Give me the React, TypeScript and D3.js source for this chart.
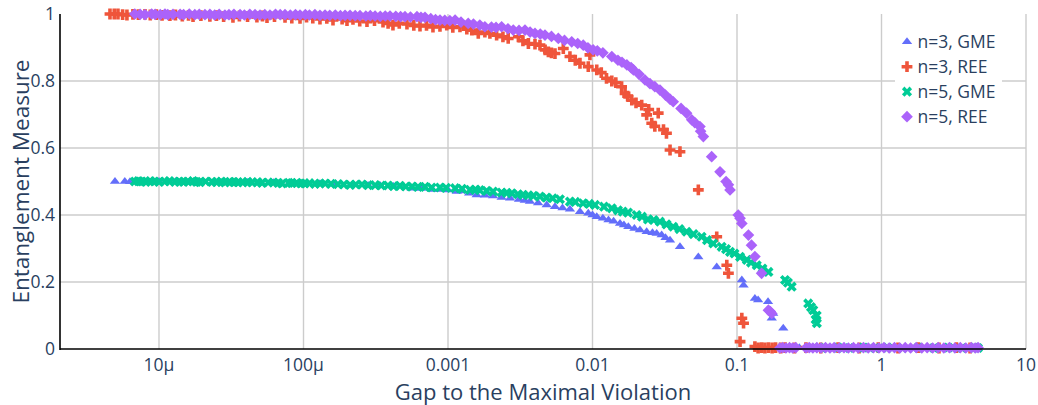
import React from "react";
import * as d3 from "d3";

type Pt = [number, number];

// [gap to maximal violation, entanglement measure]
const gme3: Pt[] = [
  [4.96e-6, 0.5], [5.8e-6, 0.5], [6.3e-6, 0.499], [7.5e-6, 0.5], [1.0e-5, 0.5], [1.3e-5, 0.499],
  [1.72e-5, 0.498], [2.4e-5, 0.498], [3.2e-5, 0.497], [4.1e-5, 0.497], [5.0e-5, 0.496],
  [6.2e-5, 0.496], [8.0e-5, 0.495], [1.0e-4, 0.494], [1.3e-4, 0.493], [1.68e-4, 0.492],
  [2.2e-4, 0.49], [2.8e-4, 0.488], [3.4e-4, 0.487], [4.2e-4, 0.485], [5.6e-4, 0.48],
  [6.5e-4, 0.479], [7.8e-4, 0.476], [8.8e-4, 0.476], [1.0e-3, 0.475], [1.15e-3, 0.47],
  [1.27e-3, 0.472], [1.4e-3, 0.465], [1.58e-3, 0.46], [1.8e-3, 0.459], [2.05e-3, 0.457],
  [2.35e-3, 0.452], [2.69e-3, 0.45], [3.1e-3, 0.446], [3.4e-3, 0.443], [3.69e-3, 0.44],
  [4.2e-3, 0.436], [4.82e-3, 0.43], [5.5e-3, 0.425], [6.2e-3, 0.421], [6.98e-3, 0.417],
  [8.19e-3, 0.41], [9.35e-3, 0.405], [1.0e-2, 0.4], [1.07e-2, 0.395], [1.18e-2, 0.39],
  [1.29e-2, 0.385], [1.4e-2, 0.381], [1.55e-2, 0.375], [1.65e-2, 0.37], [1.77e-2, 0.365],
  [1.95e-2, 0.36], [2.13e-2, 0.355], [2.37e-2, 0.35], [2.6e-2, 0.347], [2.78e-2, 0.345],
  [3.01e-2, 0.34], [3.2e-2, 0.332], [3.44e-2, 0.325], [4.03e-2, 0.305], [5.4e-2, 0.275],
  [7.24e-2, 0.245], [0.108, 0.206], [0.111, 0.19], [0.133, 0.151], [0.14, 0.146],
  [0.164, 0.141], [0.174, 0.092], [0.178, 0.106], [0.209, 0.062],
  [0.22, 0.004], [0.245, 0.003], [0.27, 0.004], [0.32, 0.003], [0.4, 0.004], [0.5, 0.003],
  [0.62, 0.004], [0.8, 0.003], [1.0, 0.004], [1.3, 0.003], [1.7, 0.004], [2.2, 0.003],
  [2.9, 0.004], [3.6, 0.003], [4.3, 0.004],
];

const ree3: Pt[] = [
  [4.58e-6, 1.0], [4.9e-6, 1.0], [5.2e-6, 1.0], [5.6e-6, 0.998], [6.0e-6, 0.997], [6.6e-6, 0.999],
  [7.2e-6, 0.998], [8.0e-6, 0.999], [8.7e-6, 0.997], [9.6e-6, 0.998], [1.05e-5, 0.996],
  [1.19e-5, 0.995], [1.3e-5, 0.997], [1.45e-5, 0.994], [1.6e-5, 0.996], [1.72e-5, 0.992],
  [1.95e-5, 0.995], [2.25e-5, 0.993], [2.5e-5, 0.995], [2.8e-5, 0.992], [3.25e-5, 0.99],
  [3.6e-5, 0.994], [4.1e-5, 0.992], [4.76e-5, 0.991], [5.2e-5, 0.994], [5.59e-5, 0.989],
  [6.3e-5, 0.992], [7.45e-5, 0.99], [8.3e-5, 0.988], [9.46e-5, 0.987], [1.05e-4, 0.991],
  [1.16e-4, 0.988], [1.3e-4, 0.985], [1.45e-4, 0.987], [1.6e-4, 0.982], [1.85e-4, 0.985],
  [2.0e-4, 0.98], [2.2e-4, 0.984], [2.45e-4, 0.979], [2.75e-4, 0.977], [3.1e-4, 0.98],
  [3.55e-4, 0.976], [3.85e-4, 0.972], [4.16e-4, 0.967], [4.6e-4, 0.972], [5.2e-4, 0.97],
  [5.8e-4, 0.966], [6.4e-4, 0.964], [7.1e-4, 0.966], [7.87e-4, 0.961], [8.8e-4, 0.963],
  [9.8e-4, 0.967], [1.08e-3, 0.96], [1.21e-3, 0.962], [1.35e-3, 0.955], [1.46e-3, 0.952],
  [1.62e-3, 0.942], [1.8e-3, 0.946], [1.95e-3, 0.942], [2.17e-3, 0.937], [2.4e-3, 0.932],
  [2.61e-3, 0.927], [3.07e-3, 0.932], [3.3e-3, 0.92], [3.6e-3, 0.912], [4.0e-3, 0.91],
  [4.33e-3, 0.907], [4.7e-3, 0.893], [4.95e-3, 0.887], [5.2e-3, 0.884], [5.5e-3, 0.882],
  [6.28e-3, 0.897], [6.98e-3, 0.873], [7.6e-3, 0.862], [8.19e-3, 0.853], [9.35e-3, 0.843],
  [9.6e-3, 0.878], [1.07e-2, 0.833], [1.15e-2, 0.825], [1.25e-2, 0.808], [1.36e-2, 0.8],
  [1.45e-2, 0.795], [1.59e-2, 0.783], [1.68e-2, 0.763], [1.75e-2, 0.755], [1.87e-2, 0.743],
  [2.0e-2, 0.735], [2.19e-2, 0.728], [2.37e-2, 0.699], [2.45e-2, 0.715], [2.85e-2, 0.704],
  [2.57e-2, 0.674], [2.7e-2, 0.665], [3.1e-2, 0.655], [3.25e-2, 0.644], [3.44e-2, 0.594],
  [4.03e-2, 0.589], [5.4e-2, 0.475], [7.24e-2, 0.335], [8.5e-2, 0.25], [8.72e-2, 0.226],
  [0.108, 0.092], [0.111, 0.077], [0.105, 0.022], [0.133, 0.007],
  [0.14, 0.003], [0.148, 0.004], [0.156, 0.003], [0.165, 0.004], [0.175, 0.003],
  [0.185, 0.004], [0.2, 0.003], [0.215, 0.004], [0.25, 0.003], [0.3, 0.004], [0.38, 0.003],
  [0.5, 0.004], [0.7, 0.003], [0.95, 0.004], [1.3, 0.003], [1.8, 0.004], [2.5, 0.003],
  [3.3, 0.004], [4.1, 0.003],
];

const gme5: Pt[] = [
  [6.8e-6, 0.5], [7.2e-6, 0.501], [7.6e-6, 0.5], [8.1e-6, 0.499], [8.7e-6, 0.501], [9.3e-6, 0.5],
  [1.0e-5, 0.499], [1.1e-5, 0.5], [1.18e-5, 0.501], [1.29e-5, 0.499], [1.38e-5, 0.5],
  [1.48e-5, 0.499], [1.58e-5, 0.5], [1.72e-5, 0.501], [1.82e-5, 0.499], [1.92e-5, 0.498],
  [2.1e-5, 0.5], [2.33e-5, 0.499], [2.5e-5, 0.498], [2.7e-5, 0.5], [2.86e-5, 0.497],
  [3.1e-5, 0.499], [3.3e-5, 0.498], [3.52e-5, 0.498], [3.8e-5, 0.497], [4.1e-5, 0.499],
  [4.4e-5, 0.497], [4.8e-5, 0.498], [5.16e-5, 0.496], [5.7e-5, 0.497], [6.2e-5, 0.497],
  [6.67e-5, 0.496], [7.1e-5, 0.494], [7.9e-5, 0.496], [8.3e-5, 0.495], [9.0e-5, 0.496],
  [9.6e-5, 0.494], [1.02e-4, 0.494], [1.1e-4, 0.495], [1.2e-4, 0.493], [1.3e-4, 0.494],
  [1.41e-4, 0.494], [1.55e-4, 0.493], [1.73e-4, 0.492], [1.9e-4, 0.491], [2.1e-4, 0.49],
  [2.3e-4, 0.491], [2.54e-4, 0.491], [2.8e-4, 0.489], [3.13e-4, 0.489], [3.45e-4, 0.488],
  [3.84e-4, 0.488], [4.2e-4, 0.486], [4.65e-4, 0.487], [5.1e-4, 0.485], [5.64e-4, 0.485],
  [6.2e-4, 0.484], [6.93e-4, 0.484], [7.7e-4, 0.482], [8.8e-4, 0.482], [9.7e-4, 0.481],
  [1.12e-3, 0.48], [1.25e-3, 0.478], [1.42e-3, 0.475], [1.55e-3, 0.476], [1.66e-3, 0.474],
  [1.85e-3, 0.472], [2.05e-3, 0.47], [2.35e-3, 0.467], [2.55e-3, 0.466], [2.76e-3, 0.465],
  [3.05e-3, 0.462], [3.3e-3, 0.46], [3.6e-3, 0.459], [3.9e-3, 0.457], [4.33e-3, 0.455],
  [4.8e-3, 0.452], [5.3e-3, 0.45], [5.95e-3, 0.447], [6.98e-3, 0.44], [7.6e-3, 0.439],
  [8.6e-3, 0.435], [9.5e-3, 0.433], [1.04e-2, 0.43], [1.2e-2, 0.425], [1.36e-2, 0.42],
  [1.5e-2, 0.414], [1.62e-2, 0.41], [1.76e-2, 0.407], [2.02e-2, 0.4], [2.2e-2, 0.395],
  [2.42e-2, 0.387], [2.65e-2, 0.385], [2.93e-2, 0.38], [3.25e-2, 0.372], [3.62e-2, 0.365],
  [4.0e-2, 0.358], [4.48e-2, 0.35], [5.0e-2, 0.343], [5.69e-2, 0.335], [6.2e-2, 0.325],
  [6.85e-2, 0.315], [7.83e-2, 0.305], [8.4e-2, 0.298], [8.95e-2, 0.29], [9.6e-2, 0.285],
  [0.105, 0.275], [0.117, 0.266], [0.125, 0.258], [0.137, 0.25], [0.15, 0.24], [0.165, 0.23],
  [0.215, 0.206], [0.225, 0.198], [0.239, 0.186], [0.311, 0.136], [0.325, 0.125],
  [0.337, 0.116], [0.356, 0.1], [0.35, 0.088], [0.357, 0.077],
  [0.37, 0.004], [0.42, 0.003], [0.5, 0.004], [0.6, 0.003], [0.75, 0.004], [0.9, 0.003],
  [1.1, 0.004], [1.4, 0.003], [1.8, 0.004], [2.3, 0.003], [2.9, 0.004], [3.6, 0.003],
  [4.4, 0.004], [4.65, 0.003],
];

const ree5: Pt[] = [
  [6.8e-6, 1.0], [7.4e-6, 0.999], [8.0e-6, 0.998], [8.9e-6, 1.0], [9.4e-6, 0.999], [1.02e-5, 0.998],
  [1.1e-5, 1.0], [1.15e-5, 0.998], [1.25e-5, 0.999], [1.4e-5, 0.999], [1.48e-5, 0.998],
  [1.62e-5, 1.0], [1.77e-5, 0.998], [1.9e-5, 0.999], [2.08e-5, 0.998], [2.25e-5, 0.999],
  [2.43e-5, 0.997], [2.61e-5, 0.999], [2.86e-5, 0.997], [3.05e-5, 0.998], [3.3e-5, 0.999],
  [3.64e-5, 0.998], [3.9e-5, 0.997], [4.25e-5, 0.999], [4.62e-5, 0.998], [5.0e-5, 0.997],
  [5.4e-5, 0.998], [5.86e-5, 0.997], [6.4e-5, 0.999], [6.9e-5, 0.998], [7.45e-5, 0.998],
  [8.1e-5, 0.997], [8.8e-5, 0.998], [9.46e-5, 0.997], [1.03e-4, 0.998], [1.1e-4, 0.997],
  [1.2e-4, 0.998], [1.3e-4, 0.996], [1.41e-4, 0.997], [1.52e-4, 0.996], [1.66e-4, 0.997],
  [1.8e-4, 0.995], [1.94e-4, 0.996], [2.1e-4, 0.996], [2.28e-4, 0.995], [2.46e-4, 0.995],
  [2.7e-4, 0.994], [2.9e-4, 0.995], [3.13e-4, 0.994], [3.4e-4, 0.993], [3.68e-4, 0.994],
  [3.97e-4, 0.994], [4.35e-4, 0.993], [4.7e-4, 0.992], [5.04e-4, 0.992], [5.5e-4, 0.991],
  [6.1e-4, 0.992], [6.5e-4, 0.99], [6.93e-4, 0.99], [7.6e-4, 0.986], [8.2e-4, 0.983],
  [8.8e-4, 0.982], [9.5e-4, 0.981], [1.03e-3, 0.98], [1.12e-3, 0.982], [1.23e-3, 0.976],
  [1.38e-3, 0.972], [1.5e-3, 0.97], [1.66e-3, 0.967], [1.8e-3, 0.962], [2.0e-3, 0.961],
  [2.15e-3, 0.96], [2.35e-3, 0.962], [2.6e-3, 0.956], [2.83e-3, 0.952], [3.1e-3, 0.951],
  [3.41e-3, 0.952], [3.7e-3, 0.946], [4.0e-3, 0.942], [4.35e-3, 0.94], [4.69e-3, 0.937],
  [5.2e-3, 0.933], [5.8e-3, 0.927], [6.4e-3, 0.921], [7.18e-3, 0.917], [7.9e-3, 0.912],
  [8.63e-3, 0.907], [9.3e-3, 0.899], [1.01e-2, 0.893], [1.08e-2, 0.89], [1.18e-2, 0.884],
  [1.36e-2, 0.873], [1.5e-2, 0.862], [1.6e-2, 0.856], [1.73e-2, 0.848], [1.85e-2, 0.84],
  [1.92e-2, 0.833], [2.1e-2, 0.82], [2.31e-2, 0.803], [2.5e-2, 0.792], [2.7e-2, 0.783],
  [2.93e-2, 0.773], [3.2e-2, 0.758], [3.45e-2, 0.745], [3.62e-2, 0.738], [4.1e-2, 0.718],
  [4.48e-2, 0.704], [4.86e-2, 0.684], [5.1e-2, 0.676], [5.54e-2, 0.664], [5.6e-2, 0.65],
  [5.85e-2, 0.634], [6.68e-2, 0.574], [7.63e-2, 0.529], [8.4e-2, 0.5], [8.72e-2, 0.49],
  [8.95e-2, 0.475], [0.102, 0.4], [0.105, 0.39], [0.108, 0.375], [0.12, 0.34], [0.126, 0.31],
  [0.133, 0.276], [0.148, 0.226], [0.165, 0.116], [0.17, 0.112], [0.174, 0.106],
  [0.198, 0.003], [0.207, 0.004], [0.218, 0.003], [0.231, 0.004], [0.243, 0.003],
  [0.255, 0.004], [0.3, 0.003], [0.316, 0.004], [0.335, 0.003], [0.357, 0.004],
  [0.381, 0.003], [0.41, 0.004], [0.44, 0.003], [0.47, 0.004], [0.51, 0.003], [0.55, 0.004],
  [0.59, 0.003], [0.64, 0.004], [0.69, 0.003], [0.75, 0.004], [0.81, 0.003], [0.88, 0.004],
  [0.96, 0.003], [1.04, 0.004], [1.13, 0.003], [1.23, 0.004], [1.34, 0.003], [1.46, 0.004],
  [1.59, 0.003], [1.74, 0.004], [1.9, 0.003], [2.07, 0.004], [2.26, 0.003], [2.47, 0.004],
  [2.7, 0.003], [2.95, 0.004], [3.22, 0.003], [3.51, 0.004], [3.83, 0.003], [4.18, 0.004],
  [4.45, 0.003], [4.66, 0.004],
];

const seriesNames = ["n=3, GME", "n=3, REE", "n=5, GME", "n=5, REE"];
const seriesColors = ["#636efa", "#EF553B", "#00cc96", "#ab63fa"];
const seriesSymbols = ["triangle-up", "cross", "x", "diamond"];
const xTickValues = [1e-5, 1e-4, 1e-3, 1e-2, 0.1, 1, 10];
const xTickLabels = ["10µ", "100µ", "0.001", "0.01", "0.1", "1", "10"];
const yTickValues = [0, 0.2, 0.4, 0.6, 0.8, 1];
const yTickLabels = ["0", "0.2", "0.4", "0.6", "0.8", "1"];

const W = 1038;
const H = 405;
const left = 60;
const right = 1026;
const top = 14;
const bottom = 349;
const font = "'Open Sans', verdana, arial, sans-serif";
const textColor = "#2a3f5f";
const R = 4.5;

// plotly-style marker paths
function symbolPath(kind: string, r: number): string {
  if (kind === "triangle-up") {
    const rt = (r * 2) / Math.sqrt(3);
    return `M${-rt},${r / 2}H${rt}L0,${-r}Z`;
  }
  if (kind === "cross") {
    const a = r * 0.4;
    const b = r * 1.2;
    return `M${b},${a}H${a}V${b}H${-a}V${a}H${-b}V${-a}H${-a}V${-b}H${a}V${-a}H${b}Z`;
  }
  if (kind === "x") {
    const rx = (r * 0.8) / Math.SQRT2;
    const ne = `l${rx},${rx}`;
    const se = `l${rx},${-rx}`;
    const sw = `l${-rx},${-rx}`;
    const nw = `l${-rx},${rx}`;
    return `M0,${rx}${ne}${se}${sw}${se}${sw}${nw}${sw}${nw}${ne}${nw}${ne}Z`;
  }
  const rd = r * 1.3;
  return `M${rd},0L0,${rd}L${-rd},0L0,${-rd}Z`;
}

export default function App() {
  const x = d3.scaleLog().domain([2.065e-6, 10]).range([left, right]);
  const y = d3.scaleLinear().domain([0, 1]).range([bottom, top]);
  const allSeries = [gme3, ree3, gme5, ree5];

  return (
    <svg
      width={W}
      height={H}
      style={{ position: "absolute", left: 0, top: 0, background: "#fff" }}
      fontFamily={font}
    >
      <rect width={W} height={H} fill="#fff" />
      {/* grid */}
      {xTickValues.map((v) => (
        <line key={"gx" + v} x1={x(v)} x2={x(v)} y1={top} y2={bottom} stroke="#cccccc" strokeWidth={1.4} />
      ))}
      {yTickValues.filter((v) => v > 0 && v < 1).map((v) => (
        <line key={"gy" + v} x1={left} x2={right} y1={y(v)} y2={y(v)} stroke="#cccccc" strokeWidth={1.4} />
      ))}
      {/* points */}
      {allSeries.map((s, i) => {
        const d = symbolPath(seriesSymbols[i], R);
        return (
          <g key={seriesNames[i]} fill={seriesColors[i]}>
            {s.map((p, j) => (
              <path key={j} d={d} transform={`translate(${x(p[0])},${y(p[1])})`} />
            ))}
          </g>
        );
      })}
      {/* axis lines */}
      <line x1={left} x2={left} y1={top} y2={bottom + 1} stroke="#000" strokeWidth={1.6} />
      <line x1={left} x2={right} y1={bottom} y2={bottom} stroke="#000" strokeWidth={1.6} />
      {/* tick labels */}
      {xTickValues.map((v, i) => (
        <text key={"tx" + v} x={x(v)} y={371} textAnchor="middle" fontSize={17.5} fill={textColor}>
          {xTickLabels[i]}
        </text>
      ))}
      {yTickValues.map((v, i) => (
        <text key={"ty" + v} x={55} y={y(v)} dy="0.35em" textAnchor="end" fontSize={17.5} fill={textColor}>
          {yTickLabels[i]}
        </text>
      ))}
      {/* titles */}
      <text x={(left + right) / 2} y={400} textAnchor="middle" fontSize={22} fill={textColor}>
        Gap to the Maximal Violation
      </text>
      <text
        transform={`translate(28.5,${(top + bottom) / 2}) rotate(-90)`}
        textAnchor="middle"
        fontSize={22.5}
        fill={textColor}
      >
        Entanglement Measure
      </text>
      {/* legend */}
      <g>
        <rect x={895} y={28} width={107} height={102} fill="#fff" />
        {seriesNames.map((name, i) => {
          const cy = 41.7 + i * 25;
          return (
            <g key={"lg" + name}>
              <path d={symbolPath(seriesSymbols[i], R)} transform={`translate(907,${cy})`} fill={seriesColors[i]} />
              <text x={917.5} y={cy} dy="0.35em" fontSize={17.5} fill={textColor}>
                {name}
              </text>
            </g>
          );
        })}
      </g>
    </svg>
  );
}
